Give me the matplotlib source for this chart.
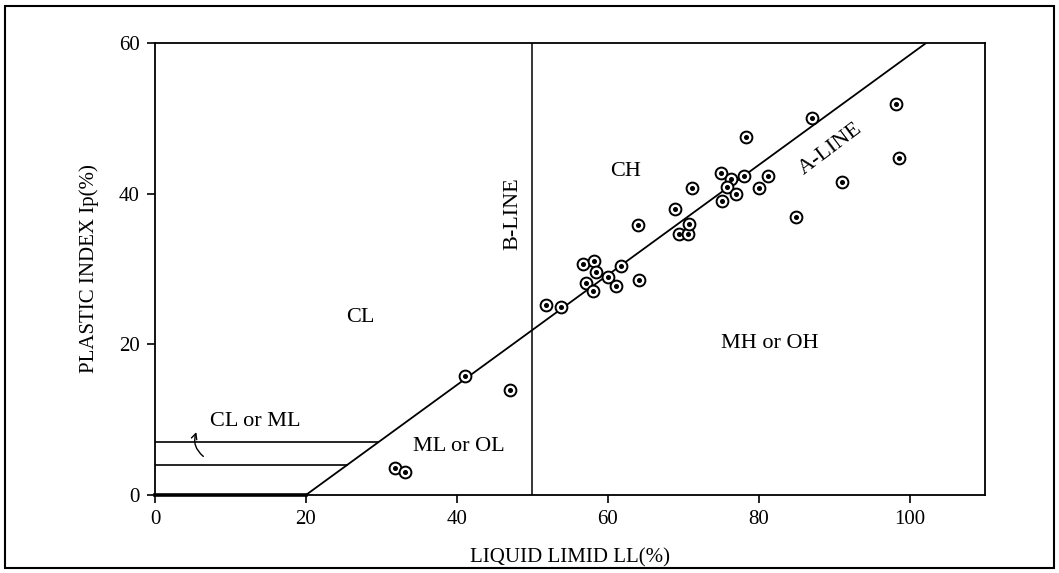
import matplotlib
matplotlib.use("Agg")
import matplotlib.pyplot as plt
from matplotlib.patches import Rectangle

# Data: liquid limit (LL %) and plasticity index (Ip %)
ll = [51.8, 53.8, 56.7, 58.2, 58.4, 57.1, 58.1, 60.0, 61.8, 61.1, 64.1, 64.0,
      68.9, 69.4, 70.7, 70.8, 71.2, 75.0, 75.1, 76.4, 75.8, 77.0, 78.0, 78.3,
      80.1, 81.2, 87.1, 98.2, 98.6, 91.1, 84.9, 41.1, 47.0, 31.8, 33.1]
ip = [25.2, 24.9, 30.7, 31.1, 29.6, 28.1, 27.1, 29.0, 30.4, 27.8, 28.6, 35.8,
      37.9, 34.7, 34.6, 36.0, 40.8, 42.7, 39.0, 41.9, 40.9, 39.9, 42.3, 47.5,
      40.8, 42.3, 50.0, 51.9, 44.8, 41.6, 36.9, 15.8, 14.0, 3.6, 3.1]

aline_ll = [20, 102.2]
aline_ip = [0, 60]
bline_ll = [50, 50]
bline_ip = [0, 60]
clml_upper = 7
clml_lower = 4

xticks = [0, 20, 40, 60, 80, 100]
yticks = [0, 20, 40, 60]

plt.rcParams['font.family'] = ['Liberation Serif', 'DejaVu Serif']

fig = plt.figure(figsize=(10.59, 5.73), dpi=100)
ax = fig.add_axes([155/1059, 1-495/573, (985-155)/1059, (495-43)/573])

ax.set_xlim(0, 110)
ax.set_ylim(0, 60)

# A-line
ax.plot(aline_ll, aline_ip, color='black', lw=1.3, solid_capstyle='butt')
# B-line
ax.plot(bline_ll, bline_ip, color='black', lw=1.1)
# CL-ML band lines (end at A-line)
x_up = 20 + clml_upper / 0.73
x_lo = 20 + clml_lower / 0.73
ax.plot([0, x_up], [clml_upper, clml_upper], color='black', lw=1.2)
ax.plot([0, x_lo], [clml_lower, clml_lower], color='black', lw=1.2)
ax.plot([0, 20], [0, 0], color='black', lw=2.6, clip_on=False)

# data points: circle with centre dot
ax.plot(ll, ip, linestyle='none', marker='o', markersize=8.5, markerfacecolor='white',
        markeredgecolor='black', markeredgewidth=1.4, zorder=3)
ax.plot(ll, ip, linestyle='none', marker='o', markersize=2.6, color='black', zorder=4)

fs = 16
ax.text(27.2, 23.6, 'CL', fontsize=fs, ha='center', va='center')
ax.text(62.3, 43.0, 'CH', fontsize=fs, ha='center', va='center')
ax.text(81.5, 20.1, 'MH or OH', fontsize=fs, ha='center', va='center')
ax.text(40.2, 6.4, 'ML or OL', fontsize=fs, ha='center', va='center')
ax.text(13.3, 9.7, 'CL or ML', fontsize=fs, ha='center', va='center')
ax.text(47.4, 37.4, 'B-LINE', fontsize=fs, ha='center', va='center', rotation=90)
ax.text(89.5, 45.9, 'A-LINE', fontsize=fs, ha='center', va='center', rotation=37)

ax.annotate('', xy=(5.6, 8.7), xytext=(6.7, 4.9),
            arrowprops=dict(arrowstyle='->', color='black', lw=1.0,
                            connectionstyle='arc3,rad=-0.4'))

ax.set_xticks(xticks)
ax.set_yticks(yticks)
ax.tick_params(direction='out', length=6, width=1.2, labelsize=15, pad=5)
for s in ax.spines.values():
    s.set_linewidth(1.3)

ax.set_xlabel('LIQUID LIMID LL(%)', fontsize=15, labelpad=14)
ax.set_ylabel('PLASTIC INDEX Ip(%)', fontsize=15, labelpad=14)

# outer frame
fig.patches.append(Rectangle((5/1059, 1-568/573), (1054-5)/1059, (568-6)/573,
                             transform=fig.transFigure, fill=False,
                             edgecolor='black', lw=1.5))

fig.savefig('out.png', dpi=100)
